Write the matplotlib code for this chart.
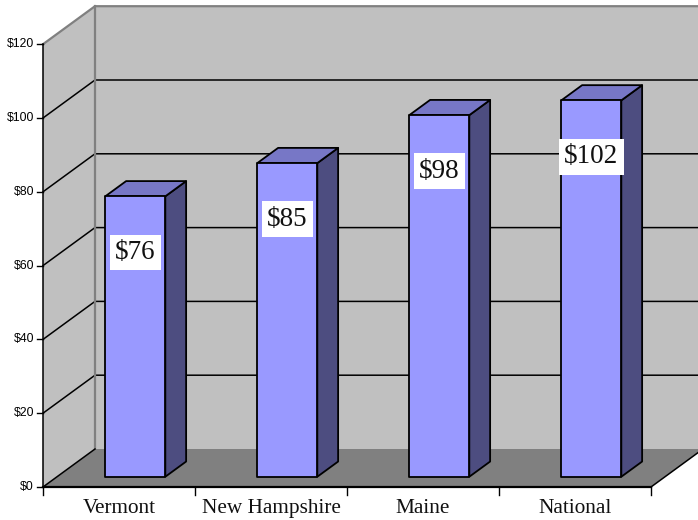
import matplotlib
matplotlib.use("Agg")
import matplotlib.pyplot as plt
from matplotlib.patches import Polygon

categories = ["Vermont", "New Hampshire", "Maine", "National"]
values = [76, 85, 98, 102]
labels = ["$76", "$85", "$98", "$102"]
yticks = [0, 20, 40, 60, 80, 100, 120]
ytick_labels = ["$0", "$20", "$40", "$60", "$80", "$100", "$120"]

W, H = 698, 520
fig = plt.figure(figsize=(W / 100, H / 100), dpi=100)
ax = fig.add_axes([0, 0, 1, 1])
ax.axis("off")

# pixel scale of the projection
PXX = 152.0        # px per category
PXY = 3.69         # px per dollar
X0, Y0 = 43.0, 487.0  # pixel origin of front axis
ax.set_xlim(-X0 / PXX, (W - X0) / PXX)
ax.set_ylim(-(H - Y0) / PXY, Y0 / PXY)

DX = 52.0 / PXX    # full depth offset (data units)
DY = 38.0 / PXY
YMAX = 120
NC = len(categories)

def P(x, y, d):
    return (x + d * DX, y + d * DY)

# walls and floor
wall = "#C0C0C0"
ax.add_patch(Polygon([P(0, 0, 1), P(NC + 1, 0, 1), P(NC + 1, YMAX, 1), P(0, YMAX, 1)],
                     closed=True, fc=wall, ec="none", zorder=1))
ax.add_patch(Polygon([P(0, 0, 0), P(0, 0, 1), P(0, YMAX, 1), P(0, YMAX, 0)],
                     closed=True, fc=wall, ec="none", zorder=1))
ax.add_patch(Polygon([P(0, 0, 0), P(NC, 0, 0), P(NC, 0, 1), P(0, 0, 1)],
                     closed=True, fc="#808080", ec="none", zorder=1))

# gridlines
for t in yticks[1:-1]:
    ax.plot(*zip(P(0, t, 0), P(0, t, 1), P(NC + 1, t, 1)), color="black", lw=1.1, zorder=2)
# wall edges (gray)
ax.plot(*zip(P(0, YMAX, 0), P(0, YMAX, 1), P(NC + 1, YMAX, 1)), color="#808080", lw=1.6, zorder=2)
ax.plot(*zip(P(0, 0, 1), P(0, YMAX, 1)), color="#808080", lw=1.6, zorder=2)
# floor edges
ax.plot(*zip(P(0, 0, 0), P(0, 0, 1)), color="black", lw=1.1, zorder=2)
ax.plot(*zip(P(NC, 0, 0), P(NC, 0, 1)), color="black", lw=1.1, zorder=2)

# front axes
ax.plot([0, 0], [0, YMAX], color="black", lw=1.1, zorder=6)
ax.plot([0, NC], [0, 0], color="black", lw=1.6, zorder=6)
tk = 6.0 / PXX
for t, lab in zip(yticks, ytick_labels):
    ax.plot([-tk, 0], [t, t], color="black", lw=1.0, zorder=6)
    ax.text(-9.0 / PXX, t, lab, ha="right", va="center", fontsize=8.8,
            family="Liberation Sans", zorder=6)
for i in range(NC + 1):
    ax.plot([i, i], [0, -8.0 / PXY], color="black", lw=1.0, zorder=6)
for i, c in enumerate(categories):
    ax.text(i + 0.5, -26.0 / PXY, c, ha="center", va="baseline", fontsize=15.3,
            family="Liberation Serif", color="#111111", zorder=6)

# bars
BW = 60.0 / PXX
D0, D1 = 0.27, 0.67
front_c, top_c, side_c = "#9999FF", "#7777C6", "#4D4D80"
for i, (v, lab) in enumerate(zip(values, labels)):
    xl = i + 0.515 - BW / 2
    xr = i + 0.515 + BW / 2
    z = 4
    ax.add_patch(Polygon([P(xr, 0, D0), P(xr, 0, D1), P(xr, v, D1), P(xr, v, D0)],
                         closed=True, fc=side_c, ec="black", lw=1.3, zorder=z, joinstyle="round"))
    ax.add_patch(Polygon([P(xl, v, D0), P(xr, v, D0), P(xr, v, D1), P(xl, v, D1)],
                         closed=True, fc=top_c, ec="black", lw=1.3, zorder=z, joinstyle="round"))
    ax.add_patch(Polygon([P(xl, 0, D0), P(xr, 0, D0), P(xr, v, D0), P(xl, v, D0)],
                         closed=True, fc=front_c, ec="black", lw=1.3, zorder=z, joinstyle="round"))
    cx, cy = P(i + 0.515, v - 17, D0)
    ax.text(cx, cy, lab, ha="center", va="baseline", fontsize=19.5, family="Liberation Serif",
            color="#111111", zorder=7,
            bbox=dict(boxstyle="square,pad=0.2", fc="white", ec="none"))

fig.savefig("out.png", dpi=100)
